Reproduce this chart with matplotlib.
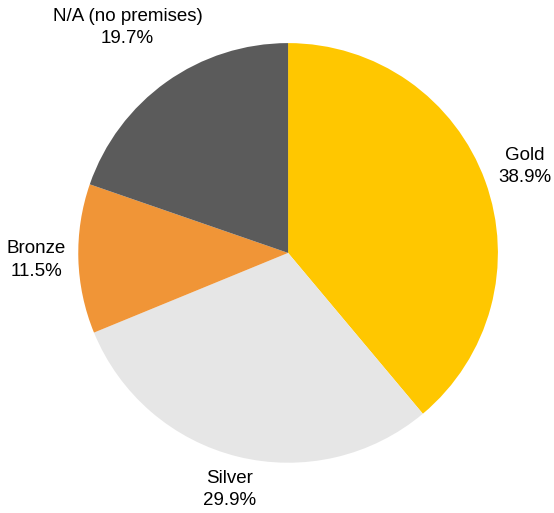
import numpy as np
import matplotlib
matplotlib.use('Agg')
from matplotlib import pyplot as plt

labels = ['Gold', 'Silver', 'Bronze', 'N/A (no premises)']
shares = [38.9, 29.9, 11.5, 19.7]
colors = ['#FFC700', '#E6E6E6', '#F09537', '#5B5B5B']

plt.rcParams['font.family'] = ['Liberation Sans', 'DejaVu Sans']

fig = plt.figure(figsize=(5.54, 5.13), dpi=100)
# square axes centred on the pie
ax = fig.add_axes([0.52 - 0.379, 0.507 - 0.409, 0.758, 0.818])

wedges, _ = ax.pie(shares, colors=colors, startangle=90, counterclock=False,
                   wedgeprops={'linewidth': 0})
ax.set_aspect('equal')

for w, name, val in zip(wedges, labels, shares):
    mid = np.deg2rad((w.theta1 + w.theta2) / 2)
    s = np.sin(mid)
    # labels above the pie sit further out
    if s > 0.5:
        r = 1.32
    elif s < -0.8:
        r = 1.16
    else:
        r = 1.2
    ax.text(r * np.cos(mid), r * s, f'{name}\n{val}%',
            ha='center', va='center', fontsize=13.5, linespacing=1.4)

ax.set_xlim(-1, 1)
ax.set_ylim(-1, 1)
ax.axis('off')

fig.savefig('out.png', dpi=100)
